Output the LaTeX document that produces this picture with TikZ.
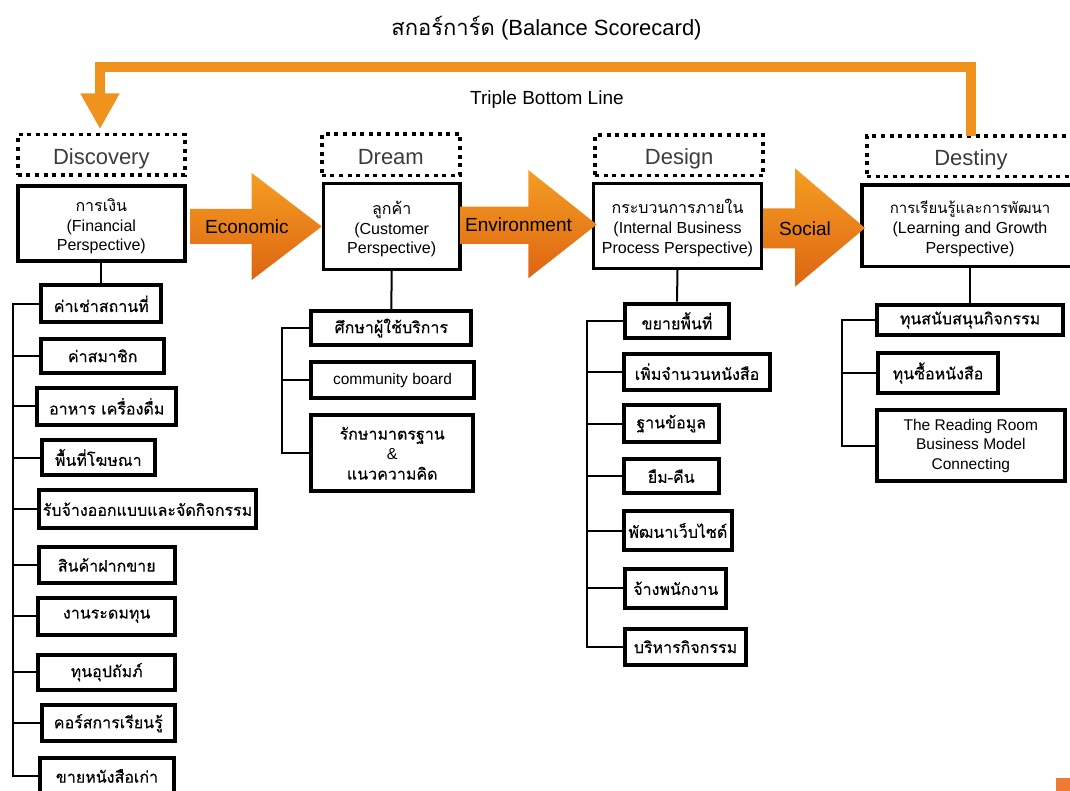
\documentclass[tikz,border=0pt]{standalone}
\usepackage{fontspec}
\setmainfont{Liberation Sans}
\newfontfamily\thaifont[Script=Thai]{Loma}
\newfontfamily\thaiitem[Script=Thai,FakeBold=0.35]{Loma}
\usetikzlibrary{arrows.meta}

\definecolor{loopc}{RGB}{240,146,30}
\definecolor{arrtop}{RGB}{244,158,34}
\definecolor{arrbot}{RGB}{222,100,18}
\definecolor{phasetext}{RGB}{60,60,60}
\definecolor{cornerc}{RGB}{241,122,50}

% taller first line pushes a centred three-line block slightly down
\newcommand\firstline{\rule{0pt}{19pt}}

\begin{document}
\begin{tikzpicture}[x=1pt,y=-1pt,
  phase/.style={draw, line width=3.5pt, dash pattern=on 4pt off 4.6pt,
    inner sep=0pt, text=phasetext, text height=19pt, text depth=0pt,
    font=\fontsize{22}{26}\selectfont},
  persp/.style={draw, line width=3.5pt, fill=white, inner sep=0pt, align=center,
    font=\fontsize{16}{19.7}\selectfont},
  leaf/.style={draw, line width=4pt, fill=white, inner sep=0pt, align=center,
    font=\fontsize{16}{20}\selectfont},
  tie/.style={line width=2pt},
  flowlabel/.style={anchor=west, inner sep=0pt, font=\fontsize{19}{22}\selectfont},
  looparrow/.style={draw=loopc, line width=10.5pt,
    -{Triangle[length=35.7pt,width=36.6pt]}, shorten >=3.5pt},
  blockarrow/.style={top color=arrtop, bottom color=arrbot},
]
\useasboundingbox (0,0) rectangle (1070,791);
\clip (0,0) rectangle (1070,791);

% headings
\node (title) at (546.5,28) {\fontsize{22}{26}\selectfont{\thaifont สกอร์การ์ด} (Balance Scorecard)};
\node[anchor=base west, inner sep=0pt, font=\fontsize{19}{22}\selectfont] (tbl) at (470,105) {Triple Bottom Line};

% phase labels (dotted)
\node[phase, minimum width=167, minimum height=40.5] (disc) at (101.3,154.7) {Discovery};
\node[phase, minimum width=138, minimum height=41.5] (drm)  at (390.8,154.7) {Dream};
\node[phase, minimum width=168, minimum height=40.5] (dsg)  at (679.2,155.3) {Design};
\node[phase, minimum width=208, minimum height=40.5] (dst)  at (971,156.3) {Destiny};

% perspective boxes
\node[persp, minimum width=167, minimum height=75] (fin) at (101.3,223.3)
  {\firstline{\thaifont การเงิน}\\(Financial\\Perspective)};
\node[persp, minimum width=136.5, minimum height=86] (cus) at (391.7,226.3)
  {\firstline{\thaifont ลูกค้า}\\(Customer\\Perspective)};
\node[persp, minimum width=168, minimum height=85] (ibp) at (677.5,225.8)
  {\firstline{\thaifont กระบวนการภายใน}\\(Internal Business\\Process Perspective)};
\node[persp, minimum width=216.5, minimum height=81.5] (lgp) at (970,225.8)
  {\firstline{\thaifont\fontsize{15}{19.7}\selectfont การเรียนรู้และการพัฒนา}\\(Learning and Growth\\Perspective)};

% loop back from Destiny to Discovery
\coordinate (loopstart) at (971,136);
\coordinate (loopcorner) at (100,67);
\draw[looparrow] (loopstart) |- (loopcorner) -- (disc.north -| loopcorner);

% block arrows between perspectives
\shade[blockarrow] (190.7,209) -- (251.7,209) -- (251.7,173) -- (321.7,226.5)
  -- (251.7,280) -- (251.7,244) -- (190.7,244) -- cycle;
\shade[blockarrow] (460,206.7) -- (528.3,206.7) -- (528.3,170) -- (596.7,224.5)
  -- (528.3,278.3) -- (528.3,244) -- (460,244) -- cycle;
\shade[blockarrow] (763,208.3) -- (795,208.3) -- (795,168.3) -- (865,228)
  -- (795,286.7) -- (795,248.3) -- (763,248.3) -- cycle;
\node[flowlabel] (eco) at (205,227) {Economic};
\node[flowlabel] (env) at (465,224.8) {Environment};
\node[flowlabel] (soc) at (779,228.3) {Social};

% Financial items
\node[leaf, minimum width=120, minimum height=37] (f1) at (101.3,303.8) {\thaiitem ค่าเช่าสถานที่};
\node[leaf, minimum width=122.7, minimum height=34.3] (f2) at (102.7,355.8) {\thaiitem ค่าสมาชิก};
\node[leaf, minimum width=139, minimum height=36.7] (f3) at (106.7,406.3) {\thaiitem อาหาร เครื่องดื่ม};
\node[leaf, minimum width=112.7, minimum height=34.4] (f4) at (98.3,457.5) {\thaiitem พื้นที่โฆษณา};
\node[leaf, minimum width=217.6, minimum height=37.7] (f5) at (147.5,509.2) {\thaiitem รับจ้างออกแบบและจัดกิจกรรม};
\node[leaf, minimum width=136, minimum height=36] (f6) at (106.7,565) {\thaiitem สินค้าฝากขาย};
\node[leaf, minimum width=137.3, minimum height=37] (f7) at (106.7,616.2) {\thaiitem งานระดมทุน};
\node[leaf, minimum width=137.3, minimum height=35] (f8) at (106.7,672.2) {\thaiitem ทุนอุปถัมภ์};
\node[leaf, minimum width=132.7, minimum height=36] (f9) at (108.3,723.3) {\thaiitem คอร์สการเรียนรู้};
\node[leaf, minimum width=133.4, minimum height=36] (f10) at (107,776) {\thaiitem ขายหนังสือเก่า};

\coordinate (fsp) at (12.7,303.8);
\draw[tie] (fin.south) -- (f1.north);
\draw[tie] (f1.west) -- (fsp) |- (f10.west);
\foreach \n in {f2,f3,f4,f5,f6,f7,f8,f9}
  \draw[tie] (\n.west) -- (\n.west -| fsp);

% Customer items
\node[leaf, minimum width=160, minimum height=33.4] (c1) at (391.3,328) {\thaiitem ศึกษาผู้ใช้บริการ};
\node[leaf, minimum width=162.4, minimum height=36, font=\fontsize{15.5}{19}\selectfont] (c2) at (392.5,380) {community board};
\node[leaf, minimum width=161.7, minimum height=76] (c3) at (392.2,453.3)
  {{\thaiitem รักษามาตรฐาน}\\\&\\{\thaiitem แนวความคิด}};

\coordinate (csp) at (281.7,328);
\draw[tie] (cus.south) -- (c1.north);
\draw[tie] (c1.west) -- (csp) |- (c3.west);
\draw[tie] (c2.west) -- (c2.west -| csp);

% Internal process items
\node[leaf, minimum width=103.4, minimum height=34.3] (p1) at (677,320.8) {\thaiitem ขยายพื้นที่};
\node[leaf, minimum width=146.6, minimum height=36] (p2) at (697,371.7) {\thaiitem เพิ่มจำนวนหนังสือ};
\node[leaf, minimum width=95, minimum height=36.7] (p3) at (671.2,423.7) {\thaiitem ฐานข้อมูล};
\node[leaf, minimum width=95, minimum height=33.7] (p4) at (671.2,476.2) {\thaiitem ยืม-คืน};
\node[leaf, minimum width=108.3, minimum height=38.4] (p5) at (677.8,530.5) {\thaiitem พัฒนาเว็บไซต์};
\node[leaf, minimum width=101, minimum height=39.3] (p6) at (675.8,588.3) {\thaiitem จ้างพนักงาน};
\node[leaf, minimum width=120.4, minimum height=36] (p7) at (685.5,646.7) {\thaiitem บริหารกิจกรรม};

\coordinate (psp) at (586.7,320.8);
\draw[tie] (ibp.south) -- (p1.north);
\draw[tie] (p1.west) -- (psp) |- (p7.west);
\foreach \n in {p2,p3,p4,p5,p6}
  \draw[tie] (\n.west) -- (\n.west -| psp);

% Learning and growth items
\node[leaf, minimum width=186, minimum height=30.6] (l1) at (970,320) {\thaiitem ทุนสนับสนุนกิจกรรม};
\node[leaf, minimum width=120, minimum height=40] (l2) at (938,373) {\thaiitem ทุนซื้อหนังสือ};
\node[leaf, minimum width=187.7, minimum height=71, font=\fontsize{15.5}{19.5}\selectfont] (l3) at (970.8,445.8)
  {The Reading Room\\Business Model\\Connecting};

\coordinate (lsp) at (841.7,320);
\draw[tie] (lgp.south) -- (l1.north);
\draw[tie] (l1.west) -- (lsp) |- (l3.west);
\draw[tie] (l2.west) -- (l2.west -| lsp);

% corner mark
\fill[cornerc] (1056,778.3) rectangle (1072,793);
\end{tikzpicture}
\end{document}
